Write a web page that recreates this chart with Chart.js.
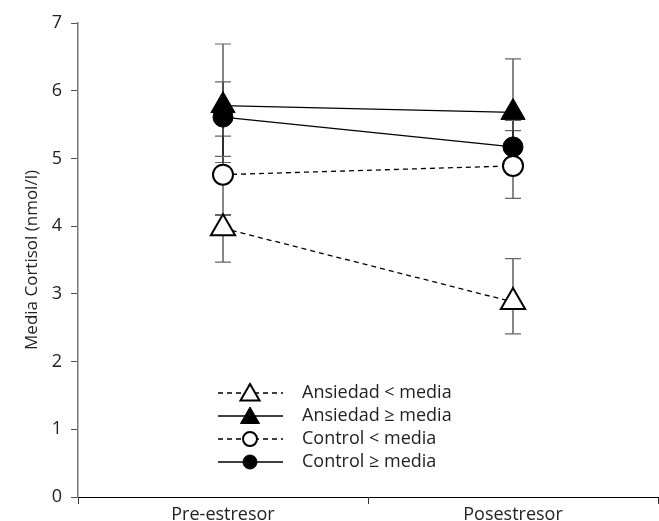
<!DOCTYPE html>
<html>
<head>
<meta charset="utf-8">
<script src="https://cdn.jsdelivr.net/npm/chart.js@4"></script>
<style>
html,body{margin:0;padding:0;background:#fff;}
#wrap{width:659px;height:521px;position:relative;}
</style>
</head>
<body>
<div id="wrap"><canvas id="c" width="659" height="521"></canvas></div>
<script>
const categories = ['Pre-estresor', 'Posestresor'];
const yTicks = [0, 1, 2, 3, 4, 5, 6, 7];

const ansiedadLow = [3.97, 2.88];
const ansiedadLowHi = [4.16, 3.52];
const ansiedadLowLo = [3.47, 2.41];

const ansiedadHigh = [5.78, 5.68];
const ansiedadHighHi = [6.69, 6.47];
const ansiedadHighLo = [4.94, 4.93];

const controlLow = [4.76, 4.89];
const controlLowHi = [5.33, 5.41];
const controlLowLo = [4.17, 4.41];

const controlHigh = [5.61, 5.17];
const controlHighHi = [6.13, 5.56];
const controlHighLo = [5.03, 4.80];

const labels = ['Ansiedad < media', 'Ansiedad \u2265 media', 'Control < media', 'Control \u2265 media'];

const FONT = '"Open Sans", "DejaVu Sans", sans-serif';

const datasets = [
  {label: labels[0], data: ansiedadLow, errHi: ansiedadLowHi, errLo: ansiedadLowLo,
   borderColor: '#000', borderWidth: 1.3, borderDash: [5, 4],
   pointStyle: 'triangle', pointRadius: 14, pointBackgroundColor: '#fff', pointBorderColor: '#000', pointBorderWidth: 2,
   legendRadius: 11},
  {label: labels[1], data: ansiedadHigh, errHi: ansiedadHighHi, errLo: ansiedadHighLo,
   borderColor: '#000', borderWidth: 1.3, borderDash: [],
   pointStyle: 'triangle', pointRadius: 14, pointBackgroundColor: '#000', pointBorderColor: '#000', pointBorderWidth: 1,
   legendRadius: 11},
  {label: labels[2], data: controlLow, errHi: controlLowHi, errLo: controlLowLo,
   borderColor: '#000', borderWidth: 1.3, borderDash: [5, 4],
   pointStyle: 'circle', pointRadius: 10, pointBackgroundColor: '#fff', pointBorderColor: '#000', pointBorderWidth: 2,
   legendRadius: 7},
  {label: labels[3], data: controlHigh, errHi: controlHighHi, errLo: controlHighLo,
   borderColor: '#000', borderWidth: 1.3, borderDash: [],
   pointStyle: 'circle', pointRadius: 10, pointBackgroundColor: '#000', pointBorderColor: '#000', pointBorderWidth: 1,
   legendRadius: 7}
];
datasets.forEach(d => { d.fill = false; d.tension = 0; d.pointHoverRadius = d.pointRadius; });

const errorBars = {
  id: 'errorBars',
  beforeDatasetsDraw(chart) {
    const ctx = chart.ctx;
    const x = chart.scales.x, y = chart.scales.y;
    ctx.save();
    chart.data.datasets.forEach((ds) => {
      ds.data.forEach((v, i) => {
        const px = x.getPixelForValue(i);
        const top = y.getPixelForValue(ds.errHi[i]);
        const bot = y.getPixelForValue(ds.errLo[i]);
        ctx.strokeStyle = '#111';
        ctx.lineWidth = 1;
        ctx.setLineDash([]);
        ctx.beginPath();
        ctx.moveTo(px, top); ctx.lineTo(px, bot);
        ctx.stroke();
        ctx.strokeStyle = '#666';
        ctx.lineWidth = 1.2;
        ctx.beginPath();
        ctx.moveTo(px - 8, top); ctx.lineTo(px + 8, top);
        ctx.moveTo(px - 8, bot); ctx.lineTo(px + 8, bot);
        ctx.stroke();
      });
    });
    ctx.restore();
  }
};

const customLegend = {
  id: 'customLegend',
  afterDraw(chart) {
    const ctx = chart.ctx;
    const x0 = 218, x1 = 283, mx = 250, tx = 302;
    const rows = [393, 416, 439, 462];
    ctx.save();
    chart.data.datasets.forEach((ds, i) => {
      const yy = rows[i];
      ctx.strokeStyle = ds.borderColor;
      ctx.lineWidth = ds.borderWidth;
      ctx.setLineDash(ds.borderDash);
      ctx.beginPath();
      ctx.moveTo(x0, yy); ctx.lineTo(x1, yy);
      ctx.stroke();
      ctx.setLineDash([]);
      ctx.fillStyle = ds.pointBackgroundColor;
      ctx.strokeStyle = ds.pointBorderColor;
      ctx.lineWidth = ds.pointBorderWidth;
      Chart.helpers.drawPoint(ctx, {pointStyle: ds.pointStyle, radius: ds.legendRadius, borderWidth: ds.pointBorderWidth, rotation: 0}, mx, ds.pointStyle === 'triangle' ? yy + 2 : yy);
      ctx.fillStyle = '#222';
      ctx.font = '18px ' + FONT;
      ctx.textBaseline = 'middle';
      ctx.textAlign = 'left';
      ctx.fillText(ds.label, tx, yy);
    });
    ctx.restore();
  }
};

new Chart(document.getElementById('c'), {
  type: 'line',
  data: {labels: categories, datasets: datasets},
  options: {
    responsive: false,
    animation: false,
    layout: {autoPadding: false, padding: {top: 23, right: 1, left: 0, bottom: 0}},
    plugins: {legend: {display: false}, tooltip: {enabled: false}},
    scales: {
      x: {
        type: 'category',
        offset: true,
        grid: {offset: true, drawOnChartArea: false, drawTicks: true, tickLength: 7, color: '#333', tickWidth: 1},
        border: {display: true, color: '#000', width: 1},
        ticks: {color: '#222', font: {family: FONT, size: 18}, padding: 0},
        afterFit(s) { s.height = 24; s.paddingLeft = 0; s.paddingRight = 0; }
      },
      y: {
        min: 0, max: 7,
        afterBuildTicks(s) { s.ticks = yTicks.map(v => ({value: v})); },
        grid: {drawOnChartArea: false, drawTicks: true, tickLength: 7, color: '#555', tickWidth: 1},
        border: {display: true, color: '#777', width: 1.5},
        ticks: {color: '#222', font: {family: FONT, size: 18}, padding: 9},
        title: {display: true, text: 'Media Cortisol (nmol/l)', color: '#222', font: {family: FONT, size: 17}, padding: {top: 22, bottom: 0}},
        afterFit(s) { s.width = 78; s.paddingTop = 0; s.paddingBottom = 0; }
      }
    }
  },
  plugins: [errorBars, customLegend]
});
</script>
</body>
</html>
